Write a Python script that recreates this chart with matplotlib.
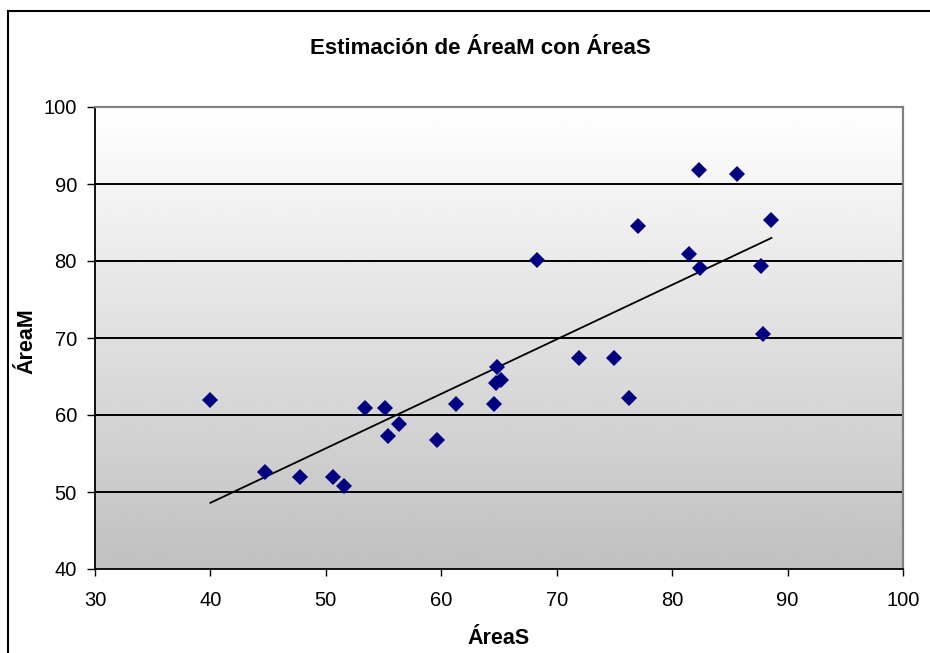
import matplotlib
matplotlib.use('Agg')
import matplotlib.pyplot as plt
from matplotlib.lines import Line2D
import numpy as np

plt.rcParams['font.family'] = ['Liberation Sans', 'DejaVu Sans']

# measurements: surface area (S) vs. measured area (M)
area_s = [40.0, 44.7, 47.8, 50.6, 51.6, 53.4, 55.1, 55.4, 56.3, 59.6,
          61.3, 64.6, 64.75, 65.15, 64.8, 68.3, 71.9, 75.0, 76.3, 77.0,
          81.45, 82.3, 82.45, 85.6, 87.7, 87.9, 88.6]
area_m = [61.95, 52.6, 51.9, 51.9, 50.8, 60.95, 60.95, 57.3, 58.8, 56.75,
          61.4, 61.4, 64.1, 64.55, 66.2, 80.1, 67.4, 67.4, 62.2, 84.5,
          80.9, 91.8, 79.05, 91.3, 79.35, 70.5, 85.3]

x_ticks = [30, 40, 50, 60, 70, 80, 90, 100]
y_ticks = [40, 50, 60, 70, 80, 90, 100]

fig = plt.figure(figsize=(9.3, 6.53), dpi=100)
ax = fig.add_axes([95 / 930, 1 - 569 / 653, 808 / 930, 462 / 653])

# plot area: white at the top fading to grey at the bottom
grad = np.linspace(1.0, 0.753, 256).reshape(-1, 1)
ax.imshow(grad, cmap='gray', vmin=0, vmax=1, aspect='auto', origin='upper',
          extent=(30, 100, 40, 100), zorder=0, interpolation='bicubic')

for y in y_ticks[1:-1]:
    ax.axhline(y, color='black', lw=1.4, zorder=1)

ax.plot(area_s, area_m, linestyle='none', marker='D', markersize=8,
        color='#000080', markeredgewidth=0, zorder=3)

# linear trend line over the data range
slope, intercept = np.polyfit(area_s, area_m, 1)
xs = np.array([min(area_s), max(area_s)])
ax.plot(xs, slope * xs + intercept, color='black', lw=1.3, zorder=2)

ax.set_xlim(30, 100)
ax.set_ylim(40, 100)
ax.set_xticks(x_ticks)
ax.set_yticks(y_ticks)
ax.tick_params(axis='x', direction='out', length=5, width=1, pad=11, labelsize=14.5)
ax.tick_params(axis='y', direction='out', length=6, width=1, pad=7, labelsize=14.5)

for side in ('left', 'bottom'):
    ax.spines[side].set_color('black')
    ax.spines[side].set_linewidth(1.3)
for side in ('top', 'right'):
    ax.spines[side].set_color('#808080')
    ax.spines[side].set_linewidth(1.6)

fig.text(480 / 930, 1 - 54 / 653, 'Estimación de ÁreaM con ÁreaS',
         ha='center', va='baseline', fontsize=16, fontweight='bold')
fig.text(499 / 930, 1 - 644 / 653, 'ÁreaS',
         ha='center', va='baseline', fontsize=15.5, fontweight='bold')
fig.text(27 / 930, 1 - 341 / 653, 'ÁreaM', rotation=90,
         ha='center', va='center', fontsize=15.5, fontweight='bold')

# chart frame, cut off at the right and bottom
fig.add_artist(Line2D([8 / 930, 8 / 930], [0, 1 - 11 / 653], color='black', lw=1.5))
fig.add_artist(Line2D([8 / 930, 1], [1 - 11 / 653, 1 - 11 / 653], color='black', lw=1.5))

fig.savefig('out.png', dpi=100)
